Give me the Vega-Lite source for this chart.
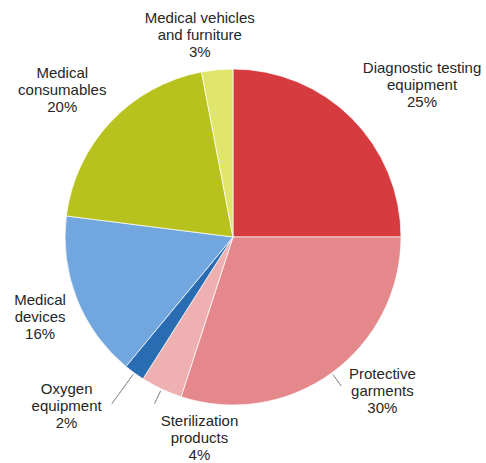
{
  "$schema": "https://vega.github.io/schema/vega-lite/v6.json",
  "width": 466,
  "height": 452,
  "autosize": "none",
  "padding": {"left": 0, "top": 11, "right": 20, "bottom": 0},
  "background": "white",
  "data": {
    "values": [
      {"rank": 1, "category": "Diagnostic testing equipment", "share": 25, "label": "Diagnostic testing\nequipment\n25%"},
      {"rank": 2, "category": "Protective garments", "share": 30, "label": "Protective\ngarments\n30%"},
      {"rank": 3, "category": "Sterilization products", "share": 4, "label": "Sterilization\nproducts\n4%"},
      {"rank": 4, "category": "Oxygen equipment", "share": 2, "label": "Oxygen\nequipment\n2%"},
      {"rank": 5, "category": "Medical devices", "share": 16, "label": "Medical\ndevices\n16%"},
      {"rank": 6, "category": "Medical consumables", "share": 20, "label": "Medical\nconsumables\n20%"},
      {"rank": 7, "category": "Medical vehicles and furniture", "share": 3, "label": "Medical vehicles\nand furniture\n3%"}
    ]
  },
  "encoding": {
    "theta": {"field": "share", "type": "quantitative", "stack": true},
    "order": {"field": "rank", "type": "quantitative"}
  },
  "layer": [
    {
      "mark": {"type": "arc", "outerRadius": 168, "stroke": "white", "strokeWidth": 0.7},
      "encoding": {
        "color": {
          "field": "category",
          "type": "nominal",
          "legend": null,
          "scale": {
            "domain": ["Diagnostic testing equipment", "Protective garments", "Sterilization products", "Oxygen equipment", "Medical devices", "Medical consumables", "Medical vehicles and furniture"],
            "range": ["#d63b40", "#e4888b", "#efb0b2", "#2a6cb1", "#71a7de", "#b7c21f", "#e0e56c"]
          }
        }
      }
    },
    {
      "mark": {"type": "arc", "innerRadius": 170, "outerRadius": 184, "padAngle": 3, "fill": null, "stroke": "#9a9a9a", "strokeWidth": 1},
      "encoding": {"strokeOpacity": {"condition": {"test": "datum.rank == 2 || datum.rank == 3", "value": 1}, "value": 0}}
    },
    {
      "mark": {"type": "arc", "innerRadius": 170, "outerRadius": 206, "padAngle": 3, "fill": null, "stroke": "#9a9a9a", "strokeWidth": 1},
      "encoding": {"strokeOpacity": {"condition": {"test": "datum.rank == 4", "value": 1}, "value": 0}}
    },
    {
      "mark": {"type": "text", "radius": 215, "dx": 37, "dy": -17, "lineBreak": "\n", "lineHeight": 17, "font": "Liberation Sans", "fontSize": 15, "fill": "#262626", "align": "center", "baseline": "middle"},
      "encoding": {"text": {"field": "label"}, "opacity": {"condition": {"test": "datum.rank == 1", "value": 1}, "value": 0}}
    },
    {
      "mark": {"type": "text", "radius": 215, "dx": 23, "dy": -37, "lineBreak": "\n", "lineHeight": 17, "font": "Liberation Sans", "fontSize": 15, "fill": "#262626", "align": "center", "baseline": "middle"},
      "encoding": {"text": {"field": "label"}, "opacity": {"condition": {"test": "datum.rank == 2", "value": 1}, "value": 0}}
    },
    {
      "mark": {"type": "text", "radius": 215, "dx": 58, "dy": -11, "lineBreak": "\n", "lineHeight": 17, "font": "Liberation Sans", "fontSize": 15, "fill": "#262626", "align": "center", "baseline": "middle"},
      "encoding": {"text": {"field": "label"}, "opacity": {"condition": {"test": "datum.rank == 3", "value": 1}, "value": 0}}
    },
    {
      "mark": {"type": "text", "radius": 215, "dx": -40, "dy": -22, "lineBreak": "\n", "lineHeight": 17, "font": "Liberation Sans", "fontSize": 15, "fill": "#262626", "align": "center", "baseline": "middle"},
      "encoding": {"text": {"field": "label"}, "opacity": {"condition": {"test": "datum.rank == 4", "value": 1}, "value": 0}}
    },
    {
      "mark": {"type": "text", "radius": 215, "dx": 7, "dy": -16, "lineBreak": "\n", "lineHeight": 17, "font": "Liberation Sans", "fontSize": 15, "fill": "#262626", "align": "center", "baseline": "middle"},
      "encoding": {"text": {"field": "label"}, "opacity": {"condition": {"test": "datum.rank == 5", "value": 1}, "value": 0}}
    },
    {
      "mark": {"type": "text", "radius": 215, "dx": -14, "dy": -17, "lineBreak": "\n", "lineHeight": 17, "font": "Liberation Sans", "fontSize": 15, "fill": "#262626", "align": "center", "baseline": "middle"},
      "encoding": {"text": {"field": "label"}, "opacity": {"condition": {"test": "datum.rank == 6", "value": 1}, "value": 0}}
    },
    {
      "mark": {"type": "text", "radius": 215, "dx": -13, "dy": -5, "lineBreak": "\n", "lineHeight": 17, "font": "Liberation Sans", "fontSize": 15, "fill": "#262626", "align": "center", "baseline": "middle"},
      "encoding": {"text": {"field": "label"}, "opacity": {"condition": {"test": "datum.rank == 7", "value": 1}, "value": 0}}
    }
  ]
}
